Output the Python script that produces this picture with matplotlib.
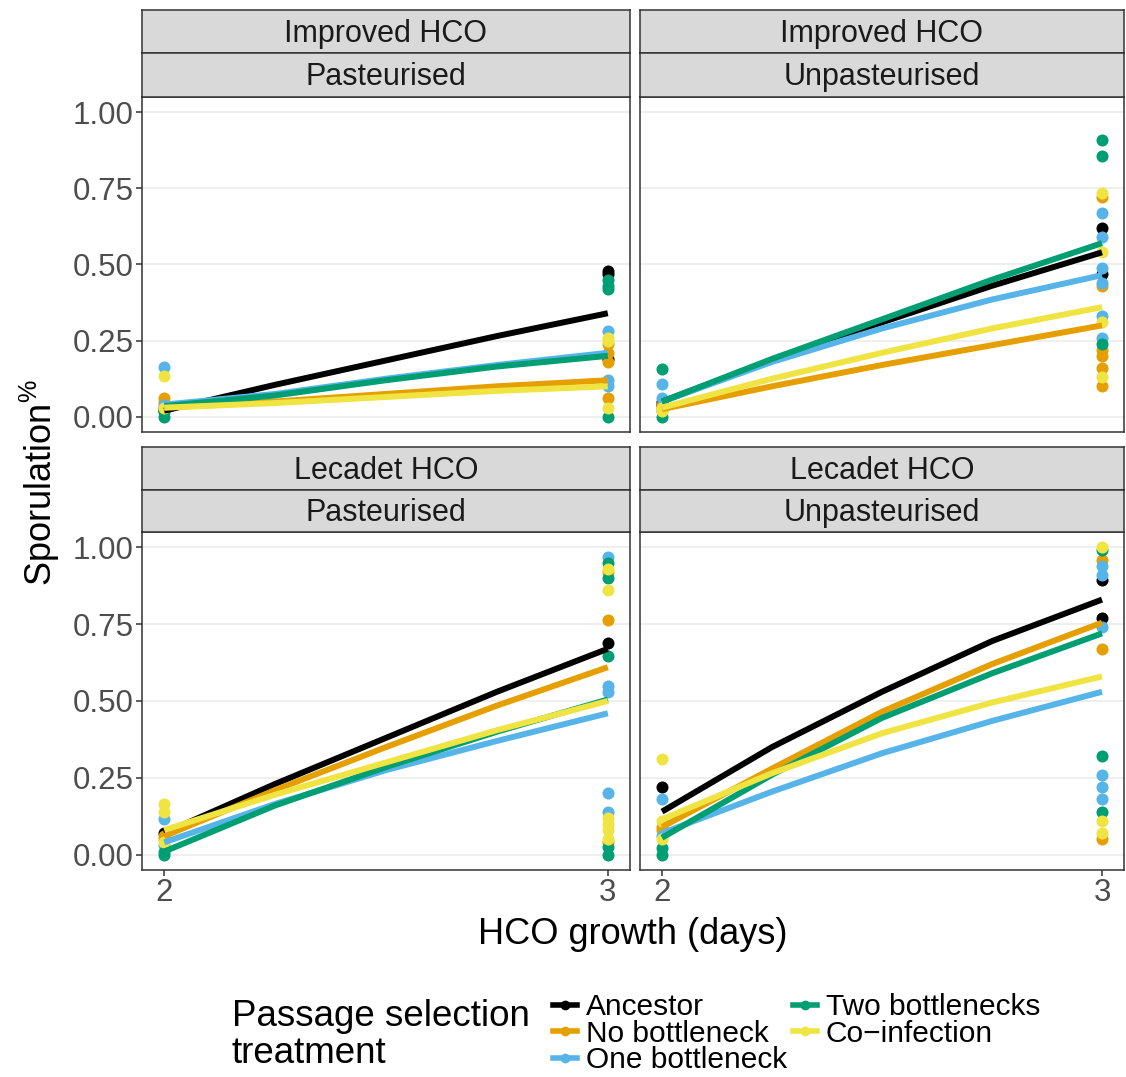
import matplotlib
matplotlib.use("Agg")
import matplotlib.pyplot as plt
from matplotlib.lines import Line2D

plt.rcParams['font.family'] = ['Liberation Sans', 'DejaVu Sans']
plt.rcParams['mathtext.fontset'] = 'custom'
plt.rcParams['mathtext.rm'] = 'Liberation Sans'
plt.rcParams['mathtext.it'] = 'Liberation Sans:italic'

# Treatment groups and their colours
treatments = ["Ancestor", "No bottleneck", "One bottleneck", "Two bottlenecks", "Co\u2212infection"]
colors = ["#000000", "#E69F00", "#56B4E9", "#009E73", "#F0E442"]

days = [2, 3]
fit_days = [2, 2.25, 2.5, 2.75, 3]
y_ticks = [0.00, 0.25, 0.50, 0.75, 1.00]
x_ticks = [2, 3]

# --- Improved HCO, Pasteurised ---
imp_past_day2 = [[0.02, 0.03], [0.06, 0.05, 0.03], [0.165, 0.04], [0.0, 0.02], [0.135, 0.03]]
imp_past_day3 = [[0.48, 0.19, 0.47], [0.24, 0.21, 0.18, 0.06], [0.28, 0.12, 0.10],
                 [0.45, 0.43, 0.42, 0.0], [0.26, 0.25, 0.03]]
imp_past_fit = [[0.02, 0.105, 0.185, 0.265, 0.34],
                [0.03, 0.05, 0.075, 0.10, 0.12],
                [0.04, 0.075, 0.125, 0.17, 0.21],
                [0.035, 0.07, 0.12, 0.165, 0.20],
                [0.03, 0.045, 0.065, 0.085, 0.10]]

# --- Improved HCO, Unpasteurised ---
imp_unp_day2 = [[0.04, 0.05], [0.04, 0.02, 0.03], [0.107, 0.06], [0.156, 0.0], [0.03, 0.02]]
imp_unp_day3 = [[0.62, 0.47], [0.72, 0.43, 0.22, 0.20, 0.16, 0.10],
                [0.67, 0.59, 0.49, 0.44, 0.33, 0.26], [0.91, 0.857, 0.24],
                [0.735, 0.54, 0.31, 0.13]]
imp_unp_fit = [[0.05, 0.185, 0.31, 0.43, 0.54],
               [0.025, 0.10, 0.17, 0.235, 0.30],
               [0.05, 0.18, 0.29, 0.385, 0.465],
               [0.05, 0.19, 0.32, 0.45, 0.57],
               [0.03, 0.125, 0.21, 0.29, 0.36]]

# --- Lecadet HCO, Pasteurised ---
lec_past_day2 = [[0.07], [0.05, 0.06], [0.115, 0.03], [0.01, 0.0], [0.165, 0.14, 0.04]]
lec_past_day3 = [[0.69], [0.92, 0.765, 0.04], [0.97, 0.55, 0.53, 0.20, 0.14],
                 [0.95, 0.90, 0.645, 0.025, 0.0], [0.93, 0.86, 0.12, 0.10, 0.08, 0.05]]
lec_past_fit = [[0.07, 0.23, 0.38, 0.53, 0.67],
                [0.06, 0.21, 0.35, 0.485, 0.61],
                [0.04, 0.165, 0.275, 0.37, 0.46],
                [0.01, 0.16, 0.285, 0.40, 0.505],
                [0.08, 0.195, 0.30, 0.405, 0.50]]

# --- Lecadet HCO, Unpasteurised ---
lec_unp_day2 = [[0.22], [0.09, 0.08], [0.18, 0.06], [0.02, 0.0], [0.31, 0.11, 0.05]]
lec_unp_day3 = [[0.895, 0.77], [0.96, 0.67, 0.05], [0.94, 0.91, 0.74, 0.26, 0.22, 0.18],
                [0.99, 0.32, 0.14], [1.0, 0.11, 0.07]]
lec_unp_fit = [[0.14, 0.35, 0.53, 0.695, 0.83],
               [0.09, 0.28, 0.465, 0.62, 0.755],
               [0.07, 0.205, 0.33, 0.435, 0.53],
               [0.055, 0.26, 0.445, 0.59, 0.72],
               [0.115, 0.265, 0.395, 0.495, 0.58]]

panels = [
    ("Improved HCO", "Pasteurised", imp_past_day2, imp_past_day3, imp_past_fit),
    ("Improved HCO", "Unpasteurised", imp_unp_day2, imp_unp_day3, imp_unp_fit),
    ("Lecadet HCO", "Pasteurised", lec_past_day2, lec_past_day3, lec_past_fit),
    ("Lecadet HCO", "Unpasteurised", lec_unp_day2, lec_unp_day3, lec_unp_fit),
]

W, H = 1126, 1077
fig = plt.figure(figsize=(W / 100, H / 100), dpi=100)


def box(x0, y0, x1, y1):
    return [x0 / W, 1 - y1 / H, (x1 - x0) / W, (y1 - y0) / H]


# pixel layout of panels (x0, x1) and rows (strip1 top, strip split, panel top, panel bottom)
cols = [(142, 630), (640, 1124)]
rows = [(10, 53, 97, 432), (447, 490, 532, 870)]

border = "#333333"
for i, (ttl1, ttl2, d2, d3, fit) in enumerate(panels):
    r, c = divmod(i, 2)
    x0, x1 = cols[c]
    s0, s1, p0, p1 = rows[r]
    ax = fig.add_axes(box(x0, p0, x1, p1))
    ax.set_xlim(1.95, 3.05)
    ax.set_ylim(-0.05, 1.05)
    ax.set_yticks(y_ticks)
    ax.set_xticks(x_ticks)
    ax.grid(axis='y', color="#EBEBEB", lw=1.1, zorder=0)
    ax.set_axisbelow(True)
    for sp in ax.spines.values():
        sp.set_color(border)
        sp.set_linewidth(1.1)
    ax.tick_params(colors=border, labelcolor="#4D4D4D", length=4, width=1.1, labelsize=22.5)
    if c == 0:
        ax.set_yticklabels([f"{v:.2f}" for v in y_ticks])
        ax.tick_params(axis='y', pad=2)
    else:
        ax.tick_params(axis='y', left=False, labelleft=False)
    if r == 0:
        ax.tick_params(axis='x', bottom=False, labelbottom=False)
    else:
        ax.set_xticklabels([str(v) for v in x_ticks])
        ax.tick_params(axis='x', pad=2)

    for k, col in enumerate(colors):
        ax.scatter([days[0]] * len(d2[k]), d2[k], s=75, color=col, lw=0, zorder=2)
        ax.scatter([days[1]] * len(d3[k]), d3[k], s=75, color=col, lw=0, zorder=2)
    for k, col in enumerate(colors):
        ax.plot(fit_days, fit[k], color=col, lw=4.3, solid_capstyle='butt',
                solid_joinstyle='round', zorder=3)

    # facet strips
    for (a, b), label in (((s0, s1), ttl1), ((s1, p0), ttl2)):
        sax = fig.add_axes(box(x0, a, x1, b))
        sax.set_facecolor("#D9D9D9")
        sax.set_xticks([])
        sax.set_yticks([])
        for sp in sax.spines.values():
            sp.set_color(border)
            sp.set_linewidth(1.1)
        sax.text(0.5, 0.45, label, ha='center', va='center', fontsize=22,
                 color="#1A1A1A", transform=sax.transAxes)

fig.text(633 / W, 1 - 935 / H, "HCO growth (days)", ha='center', va='center', fontsize=26)
fig.text(40 / W, 1 - 483 / H, r"Sporulation$^{\%}$", ha='center', va='center',
         rotation=90, fontsize=26)

fig.text(232 / W, 1 - 1035 / H, "Passage selection\ntreatment", ha='left', va='center',
         fontsize=26.5, linespacing=1.1)

handles = [Line2D([0], [0], color=col, lw=4, marker='o', markersize=7, markeredgewidth=0)
           for col in colors]
fig.legend(handles, treatments, loc='upper left', bbox_to_anchor=(553 / W, 1 - 993 / H),
           ncol=2, frameon=False, fontsize=21.5, handlelength=0.8, handletextpad=0.3,
           labelspacing=-0.05, columnspacing=0.2, borderpad=0, borderaxespad=0)

fig.savefig("out.png", dpi=100)
